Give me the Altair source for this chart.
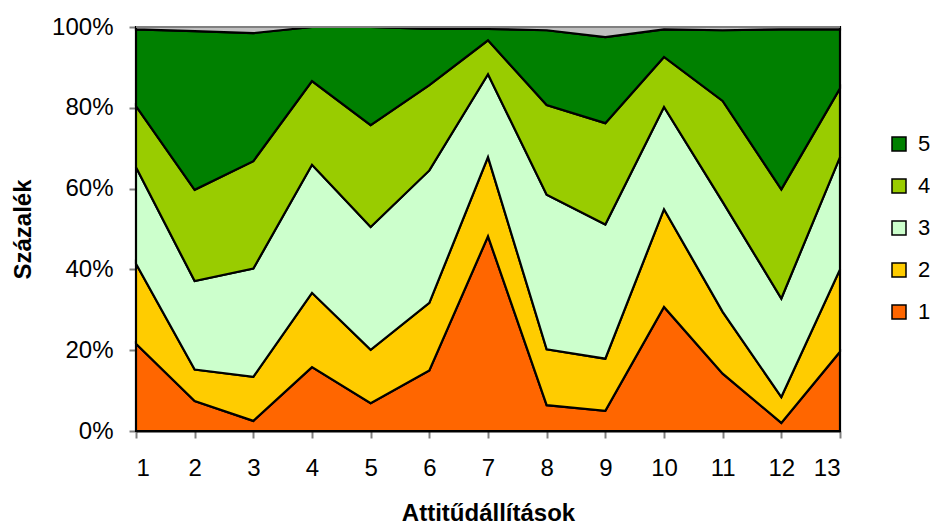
import altair as alt
import pandas as pd

statements = list(range(1, 14))
s1 = [21.6, 7.4, 2.5, 15.8, 6.9, 15.0, 48.2, 6.4, 5.0, 30.7, 14.2, 2.0, 19.6]
s2 = [19.8, 7.8, 10.9, 18.4, 13.2, 16.7, 19.6, 13.8, 12.9, 24.2, 15.3, 6.4, 20.4]
s3 = [23.9, 21.9, 26.8, 31.7, 30.4, 32.8, 20.5, 38.3, 33.2, 25.3, 27.2, 24.4, 27.8]
s4 = [15.1, 22.6, 26.6, 20.7, 25.2, 21.1, 8.4, 22.2, 25.1, 12.4, 25.0, 27.0, 17.0]
s5 = [19.0, 39.3, 31.7, 13.4, 24.3, 13.9, 2.8, 18.5, 21.3, 6.8, 17.5, 39.6, 14.6]
rest = [0.6, 1.0, 1.5, 0.0, 0.0, 0.5, 0.5, 0.8, 2.5, 0.6, 0.8, 0.6, 0.6]

series = [("1", s1), ("2", s2), ("3", s3), ("4", s4), ("5", s5), ("rest", rest)]
rows = []
for order, (name, vals) in enumerate(series):
    for x, v in zip(statements, vals):
        rows.append({"x": x, "cat": name, "value": v, "ord": order})
df = pd.DataFrame(rows)

FONT = "Liberation Sans"
colors = ["#FF6600", "#FFCC00", "#CCFFCC", "#99CC00", "#008000", "#C0C0C0"]

area = alt.Chart(df).mark_area(stroke="black", strokeWidth=2.2, strokeJoin="miter").encode(
    x=alt.X("x:Q",
            scale=alt.Scale(domain=[1, 13], nice=False, zero=False),
            axis=alt.Axis(values=statements, title="Attitűdállítások", grid=False,
                          tickColor="#808080", tickWidth=2, tickSize=7,
                          domainColor="black", domainWidth=2,
                          labelFontSize=24, labelFont=FONT, labelPadding=18,
                          labelColor="black",
                          titleFontSize=24, titleFont=FONT, titleFontWeight="bold",
                          titlePadding=21, titleColor="black")),
    y=alt.Y("value:Q", stack="zero",
            scale=alt.Scale(domain=[0, 100], nice=False),
            axis=alt.Axis(values=[0, 20, 40, 60, 80, 100], labelExpr="datum.value + '%'",
                          title="Százalék", grid=False,
                          tickColor="#808080", tickWidth=2, tickSize=7,
                          domainColor="black", domainWidth=2,
                          labelFontSize=24, labelFont=FONT, labelPadding=16,
                          labelColor="black",
                          titleFontSize=24, titleFont=FONT, titleFontWeight="bold",
                          titlePadding=16, titleColor="black")),
    color=alt.Color("cat:N",
                    scale=alt.Scale(domain=["1", "2", "3", "4", "5", "rest"], range=colors),
                    legend=alt.Legend(values=["5", "4", "3", "2", "1"], title=None,
                                      orient="none", legendX=752, legendY=106,
                                      symbolType="square", symbolSize=196,
                                      symbolStrokeColor="black", symbolStrokeWidth=1.5,
                                      symbolOpacity=1,
                                      labelFontSize=22, labelFont=FONT, labelColor="black",
                                      labelOffset=8, rowPadding=20, padding=0)),
    order=alt.Order("ord:Q"),
)

top = alt.Chart(pd.DataFrame({"x": [1]})).mark_rule(color="#808080", strokeWidth=2).encode(
    y=alt.datum(100), x=alt.value(0), x2=alt.value(704)
)

chart = alt.layer(area, top).properties(
    width=704, height=404,
    autosize=alt.AutoSizeParams(type="none"),
    padding={"left": 136, "top": 27, "right": 90, "bottom": 94},
).configure_view(stroke=None).configure(background="white")

chart.save("out.html", embed_options={"renderer": "svg", "actions": False})
